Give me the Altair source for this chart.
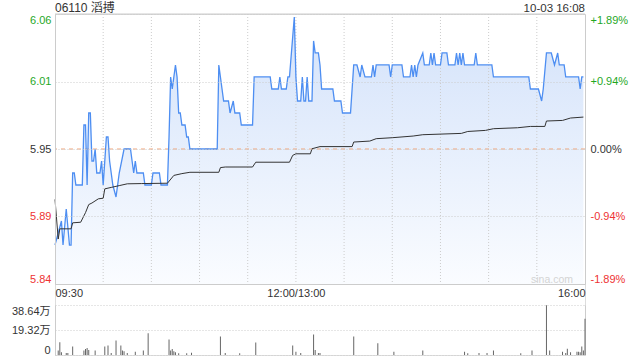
import altair as alt
import pandas as pd

FONT = "Liberation Sans, Arial, Noto Sans CJK SC, sans-serif"
GREEN = "#1fa81f"
RED = "#ee3333"
BLUE = "#4d8ef2"
GRID = "#cccccc"
TXT = "#333333"

# ---------------- data ----------------
title_text = "06110 滔搏"
date_text = "10-03 16:08"
prev_close = 5.95
pct_span = 0.0189
price_labels = ["6.06", "6.01", "5.95", "5.89", "5.84"]
pct_labels = ["+1.89%", "+0.94%", "0.00%", "-0.94%", "-1.89%"]
vol_ticks = [0, 19.32, 38.64]
vol_labels = ["0", "19.32万", "38.64万"]
time_ticks = [0, 150, 330]
time_labels = ["09:30", "12:00/13:00", "16:00"]
grid_minutes = [30, 60, 90, 120, 150, 180, 210, 240, 270, 300]

price_min = [0, 4, 5, 7, 9, 10, 11, 12, 13, 17, 18, 19, 20, 21, 22, 23, 24, 25, 26, 28,
             29, 30, 32, 33, 34, 35, 36, 38, 40, 43, 47, 48, 49, 50, 51, 55, 56, 60, 61, 65,
             66, 70, 71, 72, 73, 75, 76, 77, 78, 79, 81, 82, 83, 84, 101, 102, 104, 105, 108, 109,
             111, 112, 115, 116, 123, 124, 134, 135, 139, 140, 141, 144, 145, 146, 149, 150, 151, 153, 154, 155,
             156, 157, 158, 160, 161, 162, 164, 165, 166, 173, 174, 178, 179, 184, 186, 188, 190, 191, 193, 197,
             198, 199, 200, 208, 209, 210, 216, 217, 221, 222, 223, 224, 225, 226, 229, 230, 233, 234, 235, 236,
             237, 240, 241, 244, 245, 249, 250, 251, 252, 253, 254, 255, 261, 262, 263, 272, 273, 295, 296, 301,
             303, 304, 306, 309, 311, 313, 314, 317, 318, 326, 327, 328, 329]
price_val = [5.87, 5.89, 5.87, 5.90, 5.87, 5.87, 5.93, 5.93, 5.92, 5.92, 5.97, 5.97, 5.92, 5.98, 5.98, 5.94, 5.94, 5.95, 5.93, 5.93,
             5.94, 5.92, 5.96, 5.96, 5.94, 5.93, 5.92, 5.91, 5.93, 5.95, 5.95, 5.94, 5.93, 5.94, 5.93, 5.93, 5.92, 5.92, 5.93, 5.93,
             5.92, 5.92, 5.96, 6.01, 6.00, 6.02, 6.01, 5.98, 5.98, 5.97, 5.97, 5.96, 5.96, 5.95, 5.95, 6.02, 6.00, 5.99, 5.99, 5.98,
             5.99, 5.98, 5.98, 5.97, 5.97, 6.01, 6.01, 6.00, 6.00, 6.01, 6.00, 6.00, 6.01, 6.01, 6.06, 6.01, 5.99, 5.99, 6.01, 5.99,
             5.99, 6.01, 5.99, 5.99, 6.04, 6.03, 6.03, 6.02, 6.00, 6.00, 5.99, 5.99, 5.98, 5.98, 6.02, 6.02, 6.01, 6.02, 6.01, 6.01,
             6.02, 6.01, 6.02, 6.02, 6.01, 6.02, 6.02, 6.01, 6.01, 6.02, 6.01, 6.02, 6.01, 6.02, 6.03, 6.02, 6.02, 6.03, 6.02, 6.03,
             6.02, 6.02, 6.03, 6.03, 6.02, 6.02, 6.03, 6.02, 6.03, 6.02, 6.03, 6.02, 6.02, 6.03, 6.02, 6.02, 6.01, 6.01, 6.00, 6.00,
             5.99, 6.00, 6.03, 6.03, 6.02, 6.03, 6.02, 6.02, 6.01, 6.01, 6.00, 6.01, 6.01]

avg_min = [0, 2, 3, 10, 11, 16, 19, 21, 23, 27, 30, 31, 35, 40, 45, 54, 70, 74, 79, 84,
           102, 103, 106, 123, 125, 146, 148, 150, 159, 160, 165, 185, 186, 196, 200, 210, 223, 229, 253, 257,
           268, 273, 288, 296, 305, 306, 316, 321, 329]
avg_val = [5.908, 5.875, 5.8835, 5.8835, 5.8885, 5.889, 5.897, 5.9037, 5.905, 5.9085, 5.909, 5.9168, 5.918, 5.9195,
           5.921, 5.9212, 5.9215, 5.928, 5.9295, 5.9306, 5.9306, 5.9345, 5.935, 5.935, 5.939, 5.939, 5.9447, 5.946,
           5.946, 5.9502, 5.952, 5.952, 5.9558, 5.9566, 5.9586, 5.9594, 5.9608, 5.9619, 5.963, 5.9646, 5.9655, 5.9669,
           5.9677, 5.9688, 5.9688, 5.9733, 5.9738, 5.9758, 5.9766]

vol_min = [2, 3, 4, 7, 8, 11, 18, 19, 20, 21, 25, 31, 33, 35, 38, 41, 42, 43, 45, 50,
           55, 58, 71, 72, 73, 74, 75, 77, 82, 85, 103, 106, 115, 125, 148, 150, 153, 161, 162, 164,
           165, 186, 201, 211, 229, 255, 257, 264, 269, 273, 290, 297, 306, 308, 316, 318, 319, 321, 325, 326,
           327, 328, 329, 330]
vol_val = [3.4, 9.9, 2.1, 1.6, 1.6, 6.5, 3.4, 4.7, 5.5, 3.9, 3.4, 6.5, 7.3, 1.6, 11.2, 7.3, 3.4, 2.9, 1.6, 2.6,
           3.4, 16.9, 12.0, 3.4, 4.7, 2.9, 2.1, 1.3, 1.3, 1.8, 14.3, 1.6, 1.3, 9.6, 7.3, 2.6, 1.6, 15.9, 3.9, 1.6,
           1.6, 14.3, 9.1, 2.6, 3.4, 2.6, 1.3, 1.6, 1.6, 3.4, 1.3, 3.4, 38.5, 3.4, 2.6, 1.6, 4.9, 2.1, 2.6, 2.6,
           2.1, 6.5, 3.4, 28.1]

# ---------------- tables ----------------
price_df = pd.DataFrame({"m": price_min, "p": price_val})
avg_df = pd.DataFrame({"m": avg_min, "a": avg_val})
vol_df = pd.DataFrame({"m": vol_min, "v": vol_val})
grid_df = pd.DataFrame({"m": grid_minutes})
one_df = pd.DataFrame({"k": [0]})

hi = prev_close * (1 + pct_span)
lo = prev_close * (1 - pct_span)
price_ticks = [hi, (hi + prev_close) / 2, prev_close, (lo + prev_close) / 2, lo]


def label_expr(values, labels):
    pairs = sorted(zip(values, labels), key=lambda t: -t[0])
    expr = "'" + pairs[-1][1] + "'"
    for i in range(len(pairs) - 2, -1, -1):
        thr = (pairs[i][0] + pairs[i + 1][0]) / 2
        expr = f"datum.value > {thr} ? '{pairs[i][1]}' : ({expr})"
    return expr


label_color = {
    "condition": [
        {"test": f"datum.value > {prev_close + 0.001}", "value": GREEN},
        {"test": f"datum.value < {prev_close - 0.001}", "value": RED},
    ],
    "value": TXT,
}

PW, PH = 530, 270          # price panel
VTOP, VBOT = 291, 341      # volume panel (inside same view)
TOTAL_H = 341

xscale = alt.Scale(domain=[0, 330], nice=False, zero=False, padding=0)
xaxis = alt.Axis(values=time_ticks, labelExpr=label_expr(time_ticks, time_labels), grid=False,
                 ticks=False, tickSize=0, domain=True, domainColor=GRID, offset=-(TOTAL_H - PH),
                 labelFlush=True, labelOverlap=False, labelPadding=3, labelFontSize=11,
                 labelColor=TXT, labelFont=FONT, title=None)
X = alt.X("m:Q", scale=xscale, axis=xaxis)

pscale = alt.Scale(domain=[lo, hi], range=[PH, 0], nice=False, zero=False)
vscale = alt.Scale(domain=[0, vol_ticks[-1]], range=[VBOT, VTOP], nice=False, zero=False)

left_axis = alt.Axis(values=price_ticks, labelExpr=label_expr(price_ticks, price_labels),
                     grid=True, gridColor=GRID, gridDash=[1, 2], ticks=False, tickSize=0,
                     domain=True, domainColor=GRID, labelFlush=True, labelPadding=4,
                     labelFontSize=11, labelFont=FONT, labelColor=label_color, title=None, zindex=1)
right_axis = alt.Axis(orient="right", values=price_ticks, labelExpr=label_expr(price_ticks, pct_labels),
                      grid=False, ticks=False, tickSize=0, domain=True, domainColor=GRID,
                      labelFlush=True, labelPadding=5, labelFontSize=11, labelFont=FONT,
                      labelColor=label_color, title=None)
vol_axis = alt.Axis(values=vol_ticks, labelExpr=label_expr(vol_ticks, vol_labels), grid=True,
                    gridColor=GRID, gridDash=[1, 2], ticks=False, tickSize=0, domain=True,
                    domainColor=GRID, labelFlush=True, labelPadding=5, labelFontSize=11,
                    labelFont=FONT, labelColor=TXT, title=None)
vol_axis_r = alt.Axis(orient="right", labels=False, ticks=False, tickSize=0, grid=False,
                      domain=True, domainColor=GRID, title=None)

gradient = alt.Gradient(
    gradient="linear",
    stops=[alt.GradientStop(color="#d3e2fa", offset=0), alt.GradientStop(color="#fafcff", offset=1)],
    x1=1, x2=1, y1=0, y2=1,
)

area = alt.Chart(price_df).mark_area(color=gradient).encode(
    x=X, y=alt.Y("p:Q", scale=pscale, axis=left_axis), y2=alt.datum(lo))

vgrid = alt.Chart(grid_df).mark_rule(color=GRID, strokeDash=[1, 2], strokeWidth=1).encode(
    x=X, y=alt.value(0), y2=alt.value(PH))

prev_rule = alt.Chart(pd.DataFrame({"p": [prev_close]})).mark_rule(
    color="#f0a47a", strokeDash=[4, 4], strokeWidth=1).encode(
    y=alt.Y("p:Q", scale=pscale, axis=None))

top_border = alt.Chart(one_df).mark_rule(color=GRID, strokeWidth=1).encode(
    x=alt.value(0), x2=alt.value(PW), y=alt.value(0))

line = alt.Chart(price_df).mark_line(color=BLUE, strokeWidth=1.3).encode(
    x=X, y=alt.Y("p:Q", scale=pscale, axis=None))

avg = alt.Chart(avg_df).mark_line(color="#333333", strokeWidth=1).encode(
    x=X, y=alt.Y("a:Q", scale=pscale, axis=right_axis))

bars = alt.Chart(vol_df).mark_bar(size=1, color="#666666").encode(
    x=X, y=alt.Y("v:Q", scale=vscale, axis=vol_axis))

bars_r = alt.Chart(vol_df).mark_bar(size=1, opacity=0).encode(
    x=X, y=alt.Y("v:Q", scale=vscale, axis=vol_axis_r))

title = alt.Chart(one_df).mark_text(text=title_text, align="left", baseline="alphabetic",
                                    font=FONT, fontSize=12, color=TXT).encode(
    x=alt.value(0), y=alt.value(-2.5))
date = alt.Chart(one_df).mark_text(text=date_text, align="right", baseline="alphabetic",
                                   font=FONT, fontSize=11.5, color=TXT).encode(
    x=alt.value(PW), y=alt.value(-2.5))
mark_wm = alt.Chart(one_df).mark_text(text="sina.com", align="right", baseline="alphabetic",
                                      font=FONT, fontSize=10.5, color="#d4d4d4").encode(
    x=alt.value(518), y=alt.value(269))

chart = alt.layer(
    area, vgrid, prev_rule, top_border, mark_wm, line, avg, bars, bars_r, title, date
).resolve_scale(y="independent").properties(
    width=PW, height=TOTAL_H, autosize="none",
    padding={"left": 55, "top": 14, "right": 55, "bottom": 5},
).configure_view(stroke=None).configure(font=FONT)

chart.save("out.html", embed_options={"renderer": "svg", "actions": False})
